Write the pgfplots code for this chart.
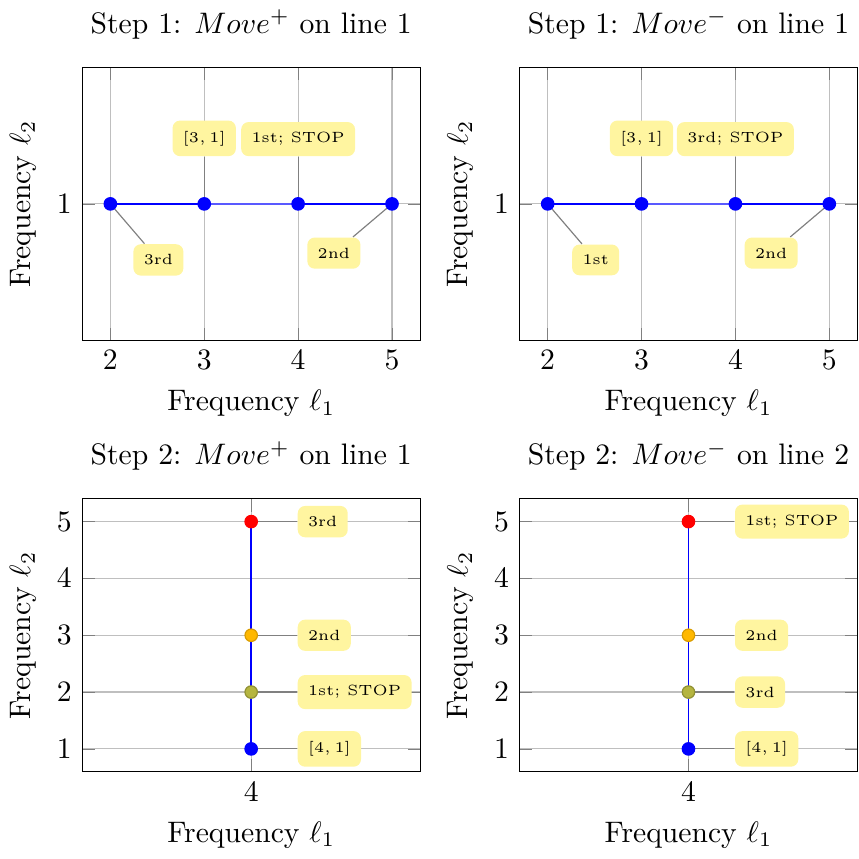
\documentclass[border=0pt]{standalone}
\usepackage{pgfplots}
\pgfplotsset{compat=1.18}
\usepgfplotslibrary{groupplots}

\definecolor{pinfill}{RGB}{255,245,160}
\definecolor{olivemk}{RGB}{181,181,64}
\definecolor{ambermk}{RGB}{255,184,0}

\tikzset{
  lbl/.style={fill=pinfill, rounded corners=2.5pt, inner sep=3.5pt, font=\tiny},
  pinln/.style={gray, thin, shorten <=2pt},
}

\begin{document}
\begin{tikzpicture}
\begin{groupplot}[
  group style={group size=2 by 2, horizontal sep=33.5pt, vertical sep=53.5pt},
  scale only axis,
  width=114pt, height=92pt,
  grid=major,
  xlabel={Frequency $\ell_1$},
  ylabel={Frequency $\ell_2$},
]
% ---- step 1, Move+ on line 1
\nextgroupplot[title={Step 1: $Move^{+}$ on line 1},
  xmin=1.7, xmax=5.3, ymin=0, ymax=2, xtick={2,3,4,5}, ytick={1}]
\addplot[blue, thick] coordinates {(2,1)(3,1)};
\addplot[blue!65, thick] coordinates {(3,1)(4,1)};
\addplot[blue, thick] coordinates {(4,1)(5,1)};
\addplot[only marks, mark=*, mark size=2.1pt, blue] coordinates {(2,1)(3,1)(4,1)(5,1)};
\node[lbl] (p) at ([shift={(16.2pt,-18.9pt)}]axis cs:2,1) {3rd};
\draw[pinln] (axis cs:2,1) -- (p);
\node[lbl, anchor=south] (p) at ([yshift=15.9pt]axis cs:3,1) {$[3,1]$};
\draw[pinln] (axis cs:3,1) -- (p.south);
\node[lbl, anchor=south] (p) at ([yshift=15.9pt]axis cs:4,1) {1st; STOP};
\draw[pinln] (axis cs:4,1) -- (p.south);
\node[lbl] (p) at ([shift={(-19.6pt,-16.6pt)}]axis cs:5,1) {2nd};
\draw[pinln] (axis cs:5,1) -- (p);

% ---- step 1, Move- on line 1
\nextgroupplot[title={Step 1: $Move^{-}$ on line 1},
  xmin=1.7, xmax=5.3, ymin=0, ymax=2, xtick={2,3,4,5}, ytick={1}]
\addplot[blue, thick] coordinates {(2,1)(3,1)};
\addplot[blue!65, thick] coordinates {(3,1)(4,1)};
\addplot[blue, thick] coordinates {(4,1)(5,1)};
\addplot[only marks, mark=*, mark size=2.1pt, blue] coordinates {(2,1)(3,1)(4,1)(5,1)};
\node[lbl] (p) at ([shift={(16.2pt,-18.9pt)}]axis cs:2,1) {1st};
\draw[pinln] (axis cs:2,1) -- (p);
\node[lbl, anchor=south] (p) at ([yshift=15.9pt]axis cs:3,1) {$[3,1]$};
\draw[pinln] (axis cs:3,1) -- (p.south);
\node[lbl, anchor=south] (p) at ([yshift=15.9pt]axis cs:4,1) {3rd; STOP};
\draw[pinln] (axis cs:4,1) -- (p.south);
\node[lbl] (p) at ([shift={(-19.6pt,-16.6pt)}]axis cs:5,1) {2nd};
\draw[pinln] (axis cs:5,1) -- (p);

% ---- step 2, Move+ on line 1
\nextgroupplot[title={Step 2: $Move^{+}$ on line 1},
  xmin=3, xmax=5, ymin=0.6, ymax=5.4, xtick={4}, ytick={1,2,3,4,5}]
\addplot[blue, semithick] coordinates {(4,1)(4,2)(4,3)(4,5)};
\addplot[only marks, mark=*, mark size=2.1pt, blue] coordinates {(4,1)};
\addplot[only marks, mark=*, mark size=2.1pt, draw=olivemk!80!black, fill=olivemk] coordinates {(4,2)};
\addplot[only marks, mark=*, mark size=2.1pt, draw=ambermk!85!black, fill=ambermk] coordinates {(4,3)};
\addplot[only marks, mark=*, mark size=2.1pt, red] coordinates {(4,5)};
\node[lbl, anchor=west] (p) at ([xshift=15.5pt]axis cs:4,1) {$[4,1]$};
\draw[pinln] (axis cs:4,1) -- (p.west);
\node[lbl, anchor=west] (p) at ([xshift=15.5pt]axis cs:4,2) {1st; STOP};
\draw[pinln] (axis cs:4,2) -- (p.west);
\node[lbl, anchor=west] (p) at ([xshift=15.5pt]axis cs:4,3) {2nd};
\draw[pinln] (axis cs:4,3) -- (p.west);
\node[lbl, anchor=west] (p) at ([xshift=15.5pt]axis cs:4,5) {3rd};
\draw[pinln] (axis cs:4,5) -- (p.west);

% ---- step 2, Move- on line 2
\nextgroupplot[title={Step 2: $Move^{-}$ on line 2},
  xmin=3, xmax=5, ymin=0.6, ymax=5.4, xtick={4}, ytick={1,2,3,4,5}]
\addplot[blue, semithick] coordinates {(4,1)(4,2)(4,3)(4,5)};
\addplot[only marks, mark=*, mark size=2.1pt, blue] coordinates {(4,1)};
\addplot[only marks, mark=*, mark size=2.1pt, draw=olivemk!80!black, fill=olivemk] coordinates {(4,2)};
\addplot[only marks, mark=*, mark size=2.1pt, draw=ambermk!85!black, fill=ambermk] coordinates {(4,3)};
\addplot[only marks, mark=*, mark size=2.1pt, red] coordinates {(4,5)};
\node[lbl, anchor=west] (p) at ([xshift=15.5pt]axis cs:4,1) {$[4,1]$};
\draw[pinln] (axis cs:4,1) -- (p.west);
\node[lbl, anchor=west] (p) at ([xshift=15.5pt]axis cs:4,2) {3rd};
\draw[pinln] (axis cs:4,2) -- (p.west);
\node[lbl, anchor=west] (p) at ([xshift=15.5pt]axis cs:4,3) {2nd};
\draw[pinln] (axis cs:4,3) -- (p.west);
\node[lbl, anchor=west] (p) at ([xshift=15.5pt]axis cs:4,5) {1st; STOP};
\draw[pinln] (axis cs:4,5) -- (p.west);
\end{groupplot}
\end{tikzpicture}
\end{document}
